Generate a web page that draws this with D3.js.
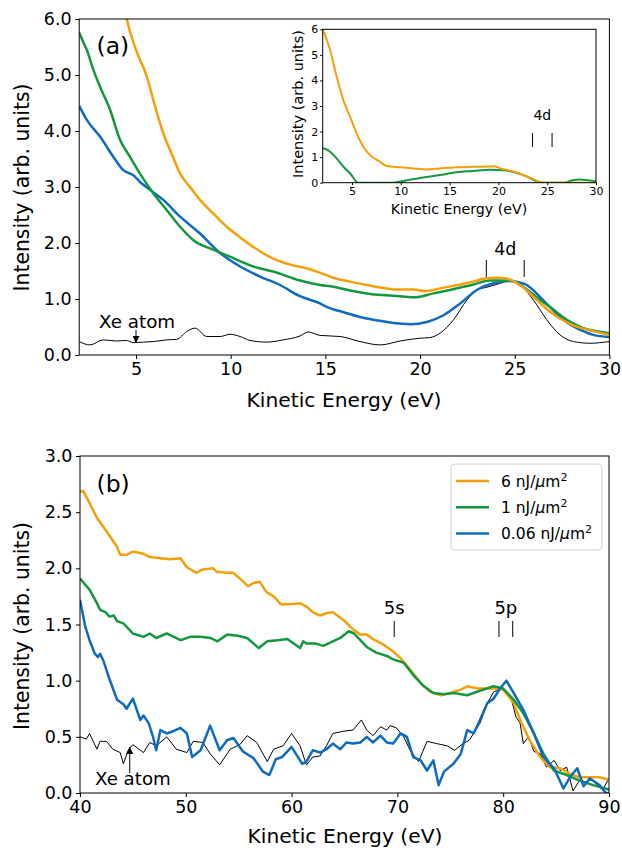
<!DOCTYPE html>
<html>
<head>
<meta charset="utf-8">
<script src="https://cdn.jsdelivr.net/npm/d3@7"></script>
<style>
  body { margin: 0; background: #fff; }
  svg { display: block; font-family: "DejaVu Sans", sans-serif; }
  .axis path, .axis line { stroke: #000; }
</style>
</head>
<body>
<div id="chart"></div>
<script>
// ---- data ----
// panel (a), x = kinetic energy (eV), y = intensity
var a_orange = [[4.2,6.6],[4.51,6.0],[5.0,5.45],[5.57,4.97],[6.0,4.45],[6.44,3.96],[6.9,3.58],[7.33,3.24],[7.9,2.98],[8.38,2.77],[9.1,2.52],[9.79,2.29],[10.5,2.10],[11.2,1.93],[12.25,1.72],[13.3,1.60],[14.0,1.55],[14.72,1.47],[15.42,1.38],[16.3,1.31],[17.19,1.25],[18.0,1.20],[18.77,1.17],[19.65,1.17],[20.27,1.14],[21.06,1.19],[22.1,1.26],[22.8,1.31],[23.35,1.36],[24.05,1.38],[24.5,1.37],[24.93,1.32],[25.5,1.19],[25.99,1.04],[26.5,0.88],[27.0,0.74],[27.5,0.63],[28.1,0.53],[29.0,0.44],[30,0.36]];
var a_green = [[2.0,5.76],[2.2,5.6],[2.4,5.45],[2.74,5.1],[3.1,4.79],[3.63,4.38],[4.16,3.84],[4.68,3.54],[5.21,3.24],[5.91,2.89],[6.62,2.59],[7.33,2.29],[8.03,2.05],[9.08,1.88],[10.14,1.73],[11.2,1.58],[12.25,1.49],[13.66,1.33],[14.72,1.25],[15.42,1.22],[16.3,1.15],[17.19,1.10],[18.0,1.07],[18.95,1.05],[19.74,1.03],[20.71,1.10],[21.59,1.16],[22.82,1.26],[23.7,1.33],[24.75,1.33],[25.3,1.25],[25.8,1.13],[26.3,0.99],[26.86,0.86],[27.3,0.74],[27.75,0.63],[28.3,0.53],[28.8,0.46],[29.4,0.42],[30,0.39]];
var a_blue = [[2.0,4.45],[2.4,4.2],[3.1,3.9],[3.8,3.54],[4.33,3.30],[4.86,3.21],[5.21,3.09],[5.74,2.95],[6.44,2.77],[7.33,2.47],[8.38,2.17],[9.44,1.82],[10.5,1.58],[11.55,1.40],[12.6,1.25],[13.66,1.05],[14.72,0.92],[15.07,0.86],[16.0,0.76],[16.83,0.68],[17.7,0.62],[18.6,0.57],[19.47,0.55],[20.36,0.59],[21.24,0.71],[22.12,0.92],[23.0,1.16],[23.88,1.28],[24.75,1.32],[25.2,1.30],[25.64,1.25],[26.0,1.15],[26.5,0.98],[27.0,0.81],[27.39,0.68],[27.8,0.57],[28.27,0.48],[29.15,0.36],[30,0.32]];
var a_atom = [[2.0,0.24],[2.57,0.18],[3.27,0.27],[3.98,0.25],[4.5,0.26],[4.86,0.22],[5.4,0.23],[5.91,0.24],[6.62,0.27],[7.15,0.28],[7.68,0.42],[8.12,0.48],[8.74,0.33],[9.44,0.33],[9.97,0.37],[10.5,0.33],[11.02,0.26],[11.9,0.23],[12.78,0.27],[13.66,0.34],[14.1,0.41],[14.72,0.35],[15.78,0.33],[16.83,0.24],[17.9,0.18],[18.95,0.25],[20.0,0.30],[20.5,0.31],[21.06,0.39],[21.77,0.63],[22.47,0.98],[23.0,1.16],[23.53,1.21],[24.24,1.28],[24.75,1.33],[25.28,1.25],[25.99,0.98],[26.69,0.63],[27.39,0.36],[28.1,0.24],[28.98,0.21],[30,0.24]];

// inset of panel (a): difference spectra
var in_orange = [[2.0,6.0],[2.75,5.2],[3.43,4.15],[4.11,3.24],[4.8,2.58],[5.48,1.93],[6.16,1.41],[6.85,1.08],[7.87,0.82],[8.56,0.65],[9.92,0.60],[11.28,0.56],[12.65,0.52],[14.0,0.56],[15.7,0.60],[17.4,0.62],[19.14,0.63],[19.6,0.64],[20.17,0.56],[21.53,0.44],[22.9,0.25],[23.92,0.08],[24.6,0],[30,0]];
var in_green = [[2.0,1.35],[2.3,1.32],[2.75,1.21],[3.43,0.95],[4.11,0.63],[4.8,0.37],[5.65,0],[9.24,0],[10.6,0.1],[12.3,0.2],[14.0,0.30],[15.7,0.41],[17.4,0.46],[19.14,0.51],[20.5,0.49],[21.53,0.42],[22.9,0.25],[23.9,0.05],[24.6,0],[26.7,0],[27.6,0.1],[28.3,0.13],[29.2,0.1],[30,0.06]];

// panel (b)
var b_orange = [[40.0,2.68],[40.3,2.69],[40.9,2.58],[41.6,2.45],[42.2,2.37],[42.8,2.29],[43.5,2.19],[43.8,2.12],[44.4,2.12],[45.0,2.15],[46.0,2.13],[46.6,2.10],[47.6,2.09],[48.5,2.08],[49.5,2.09],[50.1,2.01],[51.0,1.96],[51.6,1.99],[52.6,2.00],[52.9,1.97],[53.9,1.96],[54.5,1.96],[55.1,1.91],[55.9,1.84],[56.4,1.87],[57.0,1.88],[57.6,1.79],[58.3,1.75],[59.0,1.68],[59.8,1.68],[60.8,1.69],[61.4,1.66],[62.0,1.61],[62.7,1.58],[63.3,1.60],[63.9,1.61],[64.9,1.54],[65.9,1.45],[66.5,1.41],[67.1,1.41],[67.7,1.37],[68.7,1.32],[69.6,1.26],[70.3,1.20],[71.2,1.10],[72.2,0.98],[73.1,0.90],[74.1,0.87],[75.0,0.89],[76.0,0.92],[76.6,0.95],[77.6,0.93],[78.5,0.93],[79.5,0.93],[80.0,0.92],[81.0,0.80],[81.6,0.65],[82.5,0.47],[83.5,0.32],[84.4,0.23],[85.4,0.22],[86.3,0.17],[87.2,0.14],[88.2,0.14],[89.1,0.14],[90,0.12]];
var b_green = [[40.0,1.91],[40.9,1.81],[41.6,1.69],[41.9,1.63],[42.4,1.61],[42.8,1.57],[43.2,1.58],[43.5,1.53],[44.1,1.51],[45.0,1.42],[46.0,1.39],[46.6,1.42],[47.2,1.38],[48.2,1.42],[49.5,1.36],[50.4,1.39],[51.4,1.39],[52.3,1.38],[53.0,1.35],[53.9,1.41],[54.9,1.40],[55.8,1.38],[56.9,1.29],[57.7,1.35],[58.7,1.36],[59.6,1.37],[60.2,1.33],[60.8,1.29],[61.1,1.35],[61.4,1.33],[62.3,1.33],[63.0,1.31],[63.9,1.35],[64.6,1.38],[65.4,1.44],[65.9,1.42],[66.5,1.36],[67.1,1.30],[68.0,1.25],[69.0,1.22],[69.6,1.19],[70.6,1.16],[71.5,1.05],[72.5,0.95],[73.4,0.89],[74.4,0.88],[75.3,0.89],[76.6,0.87],[77.8,0.91],[79.1,0.95],[80.0,0.93],[81.0,0.83],[81.9,0.71],[82.9,0.53],[83.8,0.35],[84.8,0.20],[86.0,0.16],[87.2,0.11],[88.5,0.07],[90,0.03]];
var b_blue = [[40,1.72],[40.5,1.48],[40.9,1.36],[41.4,1.24],[41.7,1.21],[41.9,1.24],[42.2,1.18],[42.8,1.01],[43.5,0.83],[44.1,0.79],[44.4,0.75],[45.0,0.84],[45.7,0.65],[46.0,0.69],[46.5,0.62],[46.9,0.50],[47.2,0.38],[47.6,0.56],[48.2,0.53],[48.8,0.55],[49.5,0.58],[50.1,0.53],[50.6,0.32],[51.4,0.38],[52.3,0.60],[53.2,0.38],[53.9,0.47],[54.5,0.49],[55.4,0.37],[56.4,0.31],[57.3,0.19],[57.9,0.16],[58.5,0.30],[59.1,0.32],[60.0,0.41],[61.0,0.26],[61.4,0.28],[62.0,0.38],[62.7,0.36],[63.3,0.39],[63.9,0.44],[64.6,0.39],[65.2,0.45],[65.8,0.44],[66.5,0.45],[67.1,0.50],[67.7,0.45],[68.4,0.51],[69.0,0.45],[69.6,0.44],[70.3,0.53],[70.9,0.50],[71.5,0.32],[72.2,0.29],[72.8,0.20],[73.4,0.29],[73.9,0.07],[74.4,0.19],[75.3,0.26],[76.0,0.35],[76.6,0.56],[77.2,0.53],[77.8,0.65],[78.5,0.80],[79.1,0.84],[79.7,0.93],[80.3,1.00],[81.0,0.89],[81.9,0.74],[82.9,0.53],[83.8,0.32],[84.8,0.22],[85.7,0.04],[86.3,0.14],[87.0,0.22],[87.6,0.06],[88.2,0.13],[89.1,0.07],[89.7,0.0],[90,0.0]];
var b_atom = [[40,0.50],[40.6,0.48],[40.9,0.53],[41.6,0.39],[41.9,0.46],[42.5,0.46],[43.1,0.39],[43.8,0.36],[44.1,0.26],[44.6,0.39],[45.0,0.43],[46.0,0.36],[46.6,0.45],[47.2,0.42],[48.2,0.50],[49.1,0.39],[50.1,0.36],[50.7,0.46],[51.6,0.45],[52.3,0.35],[53.2,0.25],[54.2,0.39],[55.1,0.43],[55.8,0.51],[56.7,0.45],[57.7,0.28],[58.3,0.39],[59.2,0.42],[60.0,0.53],[60.8,0.42],[61.4,0.25],[62.0,0.32],[62.7,0.33],[63.3,0.42],[63.9,0.53],[64.9,0.55],[65.8,0.56],[66.6,0.65],[67.1,0.56],[67.7,0.51],[68.4,0.59],[69.0,0.56],[69.3,0.60],[69.9,0.58],[70.6,0.50],[71.2,0.38],[72.0,0.28],[72.8,0.46],[73.7,0.44],[74.7,0.42],[75.4,0.38],[76.2,0.44],[76.8,0.47],[77.8,0.62],[78.5,0.80],[79.1,0.90],[79.9,0.93],[80.7,0.86],[81.2,0.68],[81.6,0.62],[81.9,0.44],[82.4,0.50],[82.9,0.37],[83.5,0.35],[84.1,0.23],[84.8,0.29],[85.4,0.20],[86.0,0.23],[86.6,0.02],[87.2,0.11],[87.9,0.10],[88.2,0.14],[88.8,0.08],[89.4,0.03],[90,0.13]];

var legendLabels = ["6", "1", "0.06"];
var a_yticks = [0, 1, 2, 3, 4, 5, 6];
var a_xticks = [5, 10, 15, 20, 25, 30];
var b_yticks = [0, 0.5, 1, 1.5, 2, 2.5, 3];
var b_xticks = [40, 50, 60, 70, 80, 90];
var in_yticks = [0, 1, 2, 3, 4, 5, 6];

var colors = { orange: "#f59f0a", green: "#14983e", blue: "#0f6bbf" };

var svg = d3.select("#chart").append("svg")
    .attr("width", 622)
    .attr("height", 848);

var clipN = 0;

// draws one framed axes box and returns its scales and group
function panel(box, xdom, ydom, xticks, yticks, yfmt, fs, tsize, tpad) {
  var x = d3.scaleLinear().domain(xdom).range([box.x0, box.x1]);
  var y = d3.scaleLinear().domain(ydom).range([box.y0, box.y1]);
  var g = svg.append("g");
  g.append("rect")
    .attr("x", box.x0).attr("y", box.y1)
    .attr("width", box.x1 - box.x0).attr("height", box.y0 - box.y1)
    .attr("fill", "#fff");
  var id = "clip" + (clipN++);
  g.append("clipPath").attr("id", id).append("rect")
    .attr("x", box.x0).attr("y", box.y1)
    .attr("width", box.x1 - box.x0).attr("height", box.y0 - box.y1);
  var plot = g.append("g").attr("clip-path", "url(#" + id + ")");

  g.append("g").attr("class", "axis")
    .attr("transform", "translate(0," + box.y0 + ")")
    .call(d3.axisBottom(x).tickValues(xticks).tickSize(tsize).tickSizeOuter(0).tickPadding(tpad))
    .call(function(s) { s.select(".domain").remove(); })
    .selectAll("text").attr("font-size", fs).attr("font-family", "DejaVu Sans").attr("fill", "#000");
  g.append("g").attr("class", "axis")
    .attr("transform", "translate(" + box.x0 + ",0)")
    .call(d3.axisLeft(y).tickValues(yticks).tickFormat(yfmt).tickSize(tsize).tickSizeOuter(0).tickPadding(tpad))
    .call(function(s) { s.select(".domain").remove(); })
    .selectAll("text").attr("font-size", fs).attr("font-family", "DejaVu Sans").attr("fill", "#000");

  return { x: x, y: y, g: g, plot: plot, box: box };
}

function frame(p) {
  var b = p.box;
  p.g.append("rect")
    .attr("x", b.x0).attr("y", b.y1)
    .attr("width", b.x1 - b.x0).attr("height", b.y0 - b.y1)
    .attr("fill", "none").attr("stroke", "#000").attr("stroke-width", 1);
}

function curve(p, data, color, w, smooth) {
  var line = d3.line()
    .x(function(d) { return p.x(d[0]); })
    .y(function(d) { return p.y(d[1]); })
    .curve(smooth ? d3.curveMonotoneX : d3.curveLinear);
  p.plot.append("path")
    .datum(data)
    .attr("d", line)
    .attr("fill", "none")
    .attr("stroke", color)
    .attr("stroke-width", w)
    .attr("stroke-linejoin", "round");
}

function label(x, y, txt, fs, anchor, rot) {
  var t = svg.append("text")
    .attr("x", x).attr("y", y)
    .attr("font-size", fs)
    .attr("text-anchor", anchor || "start")
    .text(txt);
  if (rot) t.attr("transform", "rotate(" + rot + "," + x + "," + y + ")");
  return t;
}

function vtick(p, xv, ya, yb) {
  p.g.append("line")
    .attr("x1", p.x(xv)).attr("x2", p.x(xv))
    .attr("y1", ya).attr("y2", yb)
    .attr("stroke", "#000").attr("stroke-width", 1);
}

svg.append("defs").append("marker")
  .attr("id", "head").attr("viewBox", "0 0 10 10")
  .attr("refX", 10).attr("refY", 5)
  .attr("markerWidth", 7).attr("markerHeight", 7)
  .attr("markerUnits", "userSpaceOnUse")
  .attr("orient", "auto")
  .append("path").attr("d", "M0,0 L10,5 L0,10 z").attr("fill", "#000");

// ---------------- panel (a) ----------------
var pa = panel({ x0: 79.2, x1: 609.4, y0: 355, y1: 19 }, [2, 30], [0, 6],
  a_xticks, a_yticks, d3.format(".1f"), 17.5, 4, 3.5);
curve(pa, a_atom, "#000", 1, true);
curve(pa, a_blue, colors.blue, 2.5, true);
curve(pa, a_green, colors.green, 2.5, true);
curve(pa, a_orange, colors.orange, 2.5, true);
frame(pa);

label(96.5, 53.5, "(a)", 23.5);
label(99, 328, "Xe atom", 18.3);
svg.append("line")
  .attr("x1", pa.x(5)).attr("x2", pa.x(5))
  .attr("y1", 330).attr("y2", 343)
  .attr("stroke", "#000").attr("stroke-width", 1)
  .attr("marker-end", "url(#head)");
label(pa.x(24.5), 255, "4d", 17.5, "middle");
vtick(pa, 23.5, 260, 277);
vtick(pa, 25.5, 260, 277);
label(344, 407, "Kinetic Energy (eV)", 20.3, "middle");
label(28.5, 187.5, "Intensity (arb. units)", 20.4, "middle", -90);

// inset
var pi = panel({ x0: 322.7, x1: 596, y0: 182.7, y1: 29.3 }, [2, 30], [0, 6],
  a_xticks, in_yticks, d3.format("d"), 11, 2.5, 2);
curve(pi, in_green, colors.green, 2, true);
curve(pi, in_orange, colors.orange, 2, true);
frame(pi);
label(pi.x(24.5), 119.5, "4d", 14, "middle");
vtick(pi, 23.5, 133, 147);
vtick(pi, 25.5, 133, 147);
label(459, 214, "Kinetic Energy (eV)", 14.2, "middle");
label(303, 104, "Intensity (arb. units)", 14.5, "middle", -90);

// ---------------- panel (b) ----------------
var pb = panel({ x0: 80, x1: 609, y0: 793, y1: 456 }, [40, 90], [0, 3],
  b_xticks, b_yticks, d3.format(".1f"), 17.5, 4, 3.5);
curve(pb, b_atom, "#000", 1, false);
curve(pb, b_orange, colors.orange, 2.5, false);
curve(pb, b_green, colors.green, 2.5, false);
curve(pb, b_blue, colors.blue, 2.5, false);
frame(pb);

label(96.5, 492, "(b)", 23.5);
label(95, 785, "Xe atom", 18.2);
svg.append("line")
  .attr("x1", pb.x(44.7)).attr("x2", pb.x(44.7))
  .attr("y1", 773).attr("y2", 747)
  .attr("stroke", "#000").attr("stroke-width", 1)
  .attr("marker-end", "url(#head)");
label(pb.x(69.7), 614, "5s", 18, "middle");
vtick(pb, 69.7, 621, 637);
label(pb.x(80.25), 614, "5p", 18, "middle");
vtick(pb, 79.6, 621, 637);
vtick(pb, 80.9, 621, 637);
label(345, 842.5, "Kinetic Energy (eV)", 20.3, "middle");
label(28.5, 626, "Intensity (arb. units)", 20.4, "middle", -90);

// legend
var lg = svg.append("g");
lg.append("rect")
  .attr("x", 451).attr("y", 464).attr("width", 151).attr("height", 86)
  .attr("rx", 4).attr("fill", "#fff").attr("fill-opacity", 0.8)
  .attr("stroke", "#d0d0d0").attr("stroke-width", 1);
var legColors = [colors.orange, colors.green, colors.blue];
legendLabels.forEach(function(t, i) {
  var yy = 481 + i * 26.2;
  lg.append("line")
    .attr("x1", 456).attr("x2", 489).attr("y1", yy).attr("y2", yy)
    .attr("stroke", legColors[i]).attr("stroke-width", 2.5);
  var tx = lg.append("text").attr("x", 501).attr("y", yy + 5.5).attr("font-size", 15.5);
  tx.append("tspan").text(t + " nJ/");
  tx.append("tspan").attr("font-style", "italic").text("\u03bc");
  tx.append("tspan").text("m");
  tx.append("tspan").attr("font-size", 11).attr("dy", -6).text("2");
});
</script>
</body>
</html>
